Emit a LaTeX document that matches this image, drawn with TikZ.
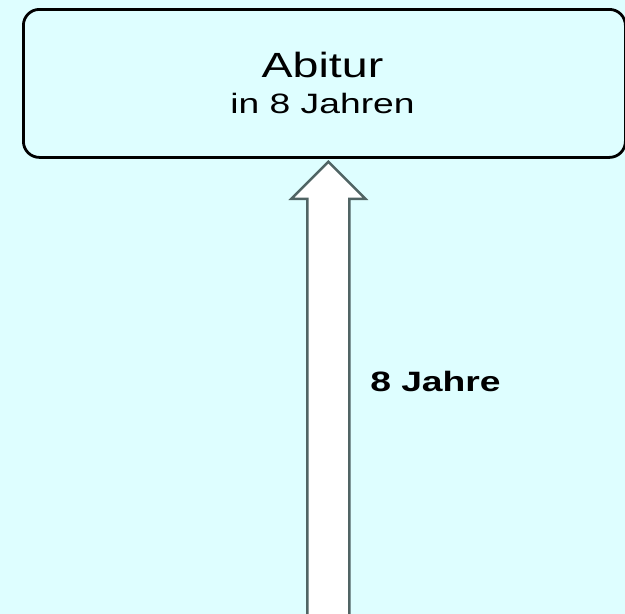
\documentclass[tikz,border=0pt]{standalone}
\usepackage{fontspec}
\setmainfont{Liberation Sans}
\usetikzlibrary{calc}
\definecolor{bgcyan}{RGB}{222,254,255}
\definecolor{shaftgray}{RGB}{80,100,100}
\tikzset{
  wide/.style={xscale=1.33, transform shape},
  goalbox/.style={draw=black, line width=2.8pt, rounded corners=16pt, fill=bgcyan},
}

\begin{document}
\begin{tikzpicture}[x=1pt,y=1pt]
\fill[bgcyan] (0,0) rectangle (625,-614);
\useasboundingbox (0,0) rectangle (625,-614);
% box on top
\node[goalbox, minimum width=602pt, minimum height=148pt, anchor=north west] (abitur) at (22,-8) {};
\node[wide, font=\fontsize{35}{35}\selectfont] (title) at (322.5,-65) {Abitur};
\node[wide, font=\fontsize{28}{28}\selectfont] (sub) at (322.5,-103) {in 8 Jahren};
% the arrow
\coordinate (tip) at ($(abitur.south)+(4,-3)$);
\coordinate (base) at ($(tip)+(0,-470)$);
\draw[shaftgray, line width=2.5pt, fill=white, line join=miter]
  (base) ++(-21,0) --++(0,433) --++(-16,0) -- (tip)
  -- ($(tip)+(37,-37)$) --++(-16,0) --++(0,-433);
\coordinate (L) at (370,-381);
\node[wide, anchor=west, font=\bfseries\fontsize{28}{28}\selectfont, inner sep=0pt] (years) at (L) {8 Jahre};
\end{tikzpicture}
\end{document}
